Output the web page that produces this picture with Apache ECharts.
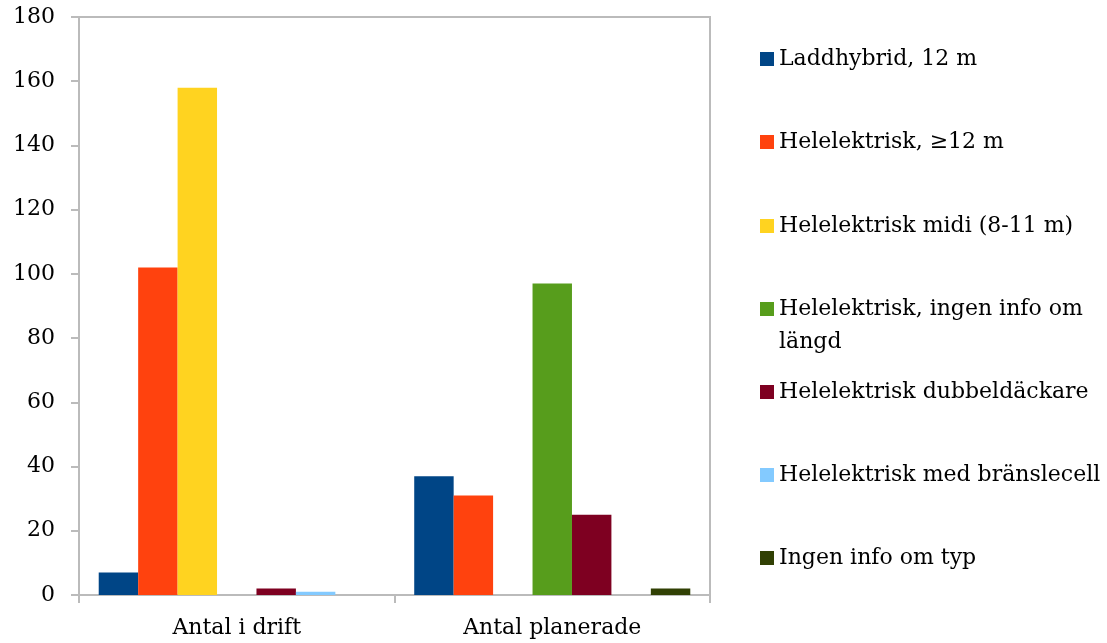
<!DOCTYPE html>
<html>
<head>
<meta charset="utf-8">
<script src="https://cdn.jsdelivr.net/npm/echarts@6/dist/echarts.min.js"></script>
<style>
html, body { margin: 0; padding: 0; background: #fff; }
#main { width: 1107px; height: 643px; }
</style>
</head>
<body>
<div id="main"></div>
<script type="text/javascript">
// kategorier och serier
var categories = ['Antal i drift', 'Antal planerade'];
var seriesNames = [
    'Laddhybrid, 12 m',
    'Helelektrisk, ≥12 m',
    'Helelektrisk midi (8-11 m)',
    'Helelektrisk, ingen info om\nlängd',
    'Helelektrisk dubbeldäckare',
    'Helelektrisk med bränslecell',
    'Ingen info om typ'
];
var laddhybrid = [7, 37];
var hel12 = [102, 31];
var helMidi = [158, 0];
var helIngenLangd = [0, 97];
var helDubbel = [2, 25];
var helBransle = [1, 0];
var ingenTyp = [0, 2];
var yTicks = [0, 20, 40, 60, 80, 100, 120, 140, 160, 180];

var colors = ['#004586', '#ff420e', '#ffd320', '#579d1c', '#7e0021', '#83caff', '#314004'];
var allData = [laddhybrid, hel12, helMidi, helIngenLangd, helDubbel, helBransle, ingenTyp];

var fontName = 'DejaVu Serif';
var fontSize = 22;
var lineCol = '#bbbbbb';

var chart = echarts.init(document.getElementById('main'));

// en legend per post; tvåradig post får en tom rad först så ikonen hamnar vid första raden
var legendTops = [59, 142, 226, 309, 392, 475, 558];
var legends = seriesNames.map(function (name, i) {
    var multi = name.indexOf('\n') >= 0;
    return {
        orient: 'vertical',
        left: 760,
        top: multi ? legendTops[i] - 49.5 : legendTops[i] - 16.5,
        data: [name],
        icon: 'rect',
        itemWidth: 14,
        itemHeight: 14,
        padding: 0,
        selectedMode: false,
        formatter: multi ? function (n) { return ' \n' + n; } : null,
        textStyle: {
            fontFamily: fontName,
            fontSize: fontSize,
            color: '#000',
            lineHeight: 33
        }
    };
});

var option = {
    backgroundColor: '#fff',
    animation: false,
    color: colors,
    legend: legends,
    grid: {
        left: 79,
        right: 397,
        top: 17,
        bottom: 48,
        show: true,
        borderColor: lineCol,
        borderWidth: 2,
        containLabel: false
    },
    xAxis: {
        type: 'category',
        data: categories,
        axisLine: { lineStyle: { color: lineCol, width: 2 } },
        axisTick: { show: true, length: 8, lineStyle: { color: lineCol, width: 2 } },
        axisLabel: {
            fontFamily: fontName,
            fontSize: fontSize,
            color: '#000',
            margin: 22
        }
    },
    yAxis: {
        type: 'value',
        min: yTicks[0],
        max: yTicks[yTicks.length - 1],
        interval: 20,
        splitLine: { show: false },
        axisLine: { show: true, lineStyle: { color: lineCol, width: 2 } },
        axisTick: { show: true, length: 8, lineStyle: { color: lineCol, width: 2 } },
        axisLabel: {
            fontFamily: fontName,
            fontSize: fontSize,
            color: '#000',
            margin: 24
        }
    },
    series: seriesNames.map(function (name, i) {
        return {
            name: name,
            type: 'bar',
            data: allData[i],
            barGap: '0%',
            barCategoryGap: '12.5%',
            itemStyle: { color: colors[i] }
        };
    })
};

chart.setOption(option);
</script>
</body>
</html>
